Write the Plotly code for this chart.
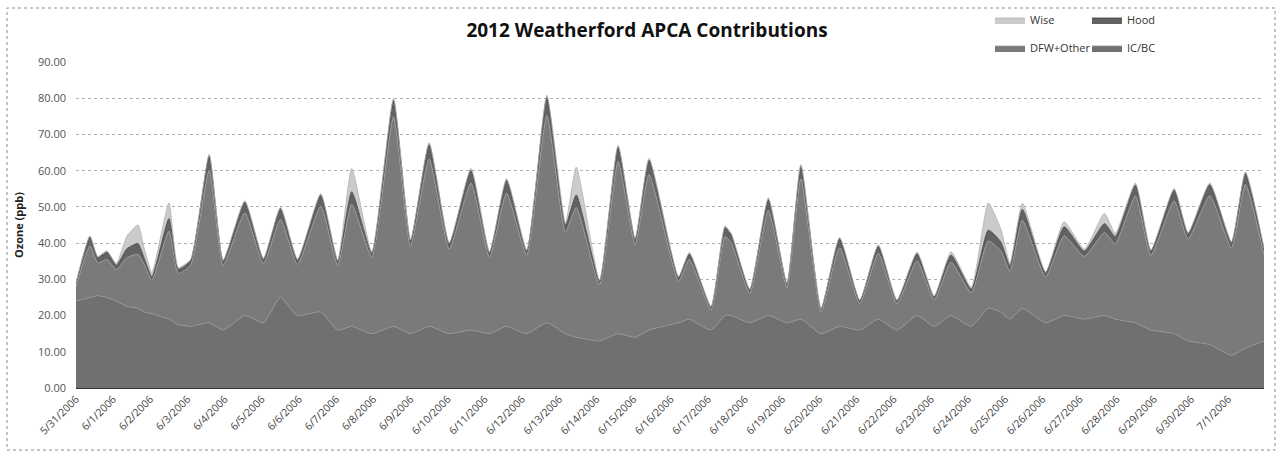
import plotly.graph_objects as go

# Hour offsets from 5/31/2006 00:00 at which the contributions were read
hours = [0, 9, 14, 20, 26, 33, 40, 44, 49, 60, 66, 74, 86, 95, 109, 121, 132, 143, 158, 169, 178, 191,
         205, 216, 228, 241, 255, 267, 278, 291, 304, 316, 323, 338, 350, 361, 370, 389, 396, 410,
         419, 423, 435, 447, 459, 468, 481, 493, 506, 518, 530, 543, 554, 565, 578, 589, 597, 603,
         611, 626, 638, 651, 664, 671, 684, 694, 709, 718, 732, 746, 755, 767]

# Ozone contributions (ppb) by source region
ic_bc = [24.0, 25.0, 25.5, 25.0, 24.0, 22.5, 22.0, 21.0, 20.5, 19.0, 17.5, 17.0, 18.0, 16.0, 20.0, 18.0,
         25.0, 20.0, 21.0, 16.0, 17.0, 15.0, 17.0, 15.0, 17.0, 15.0, 16.0, 15.0, 17.0, 15.0, 18.0, 15.0,
         14.0, 13.0, 15.0, 14.0, 16.0, 18.0, 19.0, 16.0, 20.0, 20.0, 18.0, 20.0, 18.0, 19.0, 15.0, 17.0,
         16.0, 19.0, 16.0, 20.0, 17.0, 20.0, 17.0, 22.0, 21.0, 19.0, 22.0, 18.0, 20.0, 19.0, 20.0, 19.0,
         18.0, 16.0, 15.0, 13.0, 12.0, 9.0, 11.0, 13.0]
dfw_other = [4.0, 14.2, 9.0, 10.5, 8.7, 13.5, 14.9, 13.1, 9.2, 24.3, 14.1, 16.9, 42.1, 17.8, 28.3, 16.3,
             21.5, 14.1, 29.2, 17.8, 33.7, 21.0, 57.9, 24.1, 46.2, 23.3, 40.6, 21.1, 36.8, 21.6, 57.2, 28.0,
             35.8, 15.5, 47.5, 25.5, 42.9, 11.5, 16.5, 5.5, 21.8, 20.1, 8.1, 29.0, 9.7, 38.7, 6.0, 21.7,
             7.3, 18.2, 7.3, 15.1, 7.3, 14.7, 9.3, 18.6, 16.9, 13.2, 24.3, 12.6, 22.0, 17.3, 22.9, 20.8,
             35.0, 20.6, 36.6, 28.1, 41.1, 29.6, 45.2, 23.8]
hood = [0.8, 2.5, 1.5, 2.0, 1.2, 2.5, 3.0, 1.8, 1.0, 3.5, 1.2, 1.3, 4.0, 1.2, 3.0, 1.2,
        3.0, 1.2, 3.0, 1.2, 3.5, 1.2, 4.5, 1.5, 4.0, 1.5, 3.5, 1.2, 3.5, 1.2, 5.0, 2.0,
        3.5, 1.0, 4.0, 1.5, 4.0, 1.0, 1.5, 0.8, 2.5, 2.2, 1.0, 3.0, 1.0, 3.5, 0.8, 2.5,
        0.8, 2.0, 0.8, 2.0, 0.8, 2.0, 1.0, 3.0, 2.5, 1.5, 3.0, 1.2, 2.5, 1.5, 2.5, 2.0,
        3.0, 1.2, 3.0, 1.5, 3.0, 1.5, 3.0, 1.5]
wise = [0.2, 0.3, 0.3, 0.4, 0.5, 3.5, 5.1, 2.7, 1.2, 4.3, 0.5, 0.3, 0.4, 0.3, 0.4, 0.3,
        0.4, 0.3, 0.5, 0.3, 6.4, 0.4, 0.5, 0.3, 0.5, 0.3, 0.5, 0.3, 0.5, 0.3, 0.6, 0.5,
        7.7, 0.3, 0.5, 0.3, 0.5, 0.3, 0.4, 0.2, 0.4, 0.4, 0.2, 0.5, 0.2, 0.5, 0.2, 0.4,
        0.2, 0.3, 0.2, 0.4, 0.3, 0.9, 0.5, 7.5, 3.6, 0.8, 1.7, 0.3, 1.4, 0.5, 2.8, 0.9,
        0.6, 0.3, 0.5, 0.3, 0.5, 0.3, 0.5, 0.3]

day_ticks = [0, 24, 48, 72, 96, 120, 144, 168, 192, 216, 240, 264, 288, 312, 336, 360,
             384, 408, 432, 456, 480, 504, 528, 552, 576, 600, 624, 648, 672, 696, 720, 744]
day_labels = ["5/31/2006", "6/1/2006", "6/2/2006", "6/3/2006", "6/4/2006", "6/5/2006",
              "6/6/2006", "6/7/2006", "6/8/2006", "6/9/2006", "6/10/2006", "6/11/2006",
              "6/12/2006", "6/13/2006", "6/14/2006", "6/15/2006", "6/16/2006", "6/17/2006",
              "6/18/2006", "6/19/2006", "6/20/2006", "6/21/2006", "6/22/2006", "6/23/2006",
              "6/24/2006", "6/25/2006", "6/26/2006", "6/27/2006", "6/28/2006", "6/29/2006",
              "6/30/2006", "7/1/2006"]

# Plot area in pixels, used to place the chart border and legends
W, H = 1278, 451
L, R, T, B = 76, 14, 62, 63
pw, ph = W - L - R, H - T - B


def px_x(x):
    return (x - L) / pw


def px_y(y):
    return (H - B - y) / ph


# Stacked layers, bottom first
layers = [
    ("IC/BC", ic_bc, "#707070", "#949494", "legend2"),
    ("DFW+Other", dfw_other, "#7a7a7a", "#9c9c9c", "legend2"),
    ("Hood", hood, "#626262", "#3c3c3c", "legend"),
    ("Wise", wise, "#cbcbcb", "#b0b0b0", "legend"),
]

fig = go.Figure()
for name, vals, fill, edge, leg in layers:
    fig.add_trace(go.Scatter(
        x=hours, y=vals, name=name, mode="lines", stackgroup="one",
        line=dict(color=edge, width=0.8, shape="spline", smoothing=0.5),
        fillcolor=fill, legend=leg, hoverinfo="x+y+name",
    ))

legend_common = dict(
    orientation="h", xanchor="left", yanchor="middle", traceorder="reversed",
    entrywidth=52, entrywidthmode="pixels", bgcolor="rgba(0,0,0,0)",
    font=dict(family="Open Sans", size=11, color="#333333"),
    itemwidth=30,
)

fig.update_layout(
    width=W, height=H,
    margin=dict(l=L, r=R, t=T, b=B, autoexpand=False),
    paper_bgcolor="white", plot_bgcolor="white",
    title=dict(text="<b>2012 Weatherford APCA Contributions</b>",
               xref="container", x=647 / W, xanchor="center",
               yref="container", y=1 - 30 / H, yanchor="middle",
               font=dict(family="Open Sans", size=19, color="#111111")),
    legend=dict(x=px_x(990), y=px_y(20), **legend_common),
    legend2=dict(x=px_x(990), y=px_y(48), **legend_common),
    xaxis=dict(
        range=[0, hours[-1]], tickmode="array", tickvals=day_ticks, ticktext=day_labels,
        tickangle=-45, tickfont=dict(family="Open Sans", size=10.5, color="#444444"),
        showgrid=False, showline=True, linecolor="#333333", linewidth=1,
        ticks="", zeroline=False,
    ),
    yaxis=dict(
        range=[0, 90], tickmode="linear", tick0=0, dtick=10, tickformat=".2f",
        tickfont=dict(family="Open Sans", size=11, color="#555555"),
        ticklabelstandoff=9,
        showgrid=True, gridcolor="#b0b0b0", griddash="dot", gridwidth=1,
        showline=False, zeroline=False, ticks="",
        title=dict(text="<b>Ozone (ppb)</b>", standoff=12,
                   font=dict(family="Open Sans", size=11, color="#222222")),
    ),
    shapes=[dict(
        type="rect", xref="paper", yref="paper",
        x0=px_x(7), x1=px_x(1275), y0=px_y(450), y1=px_y(8),
        line=dict(color="#8a8a8a", width=1, dash="dot"), layer="below",
    )],
)

fig.write_html("out.html")
